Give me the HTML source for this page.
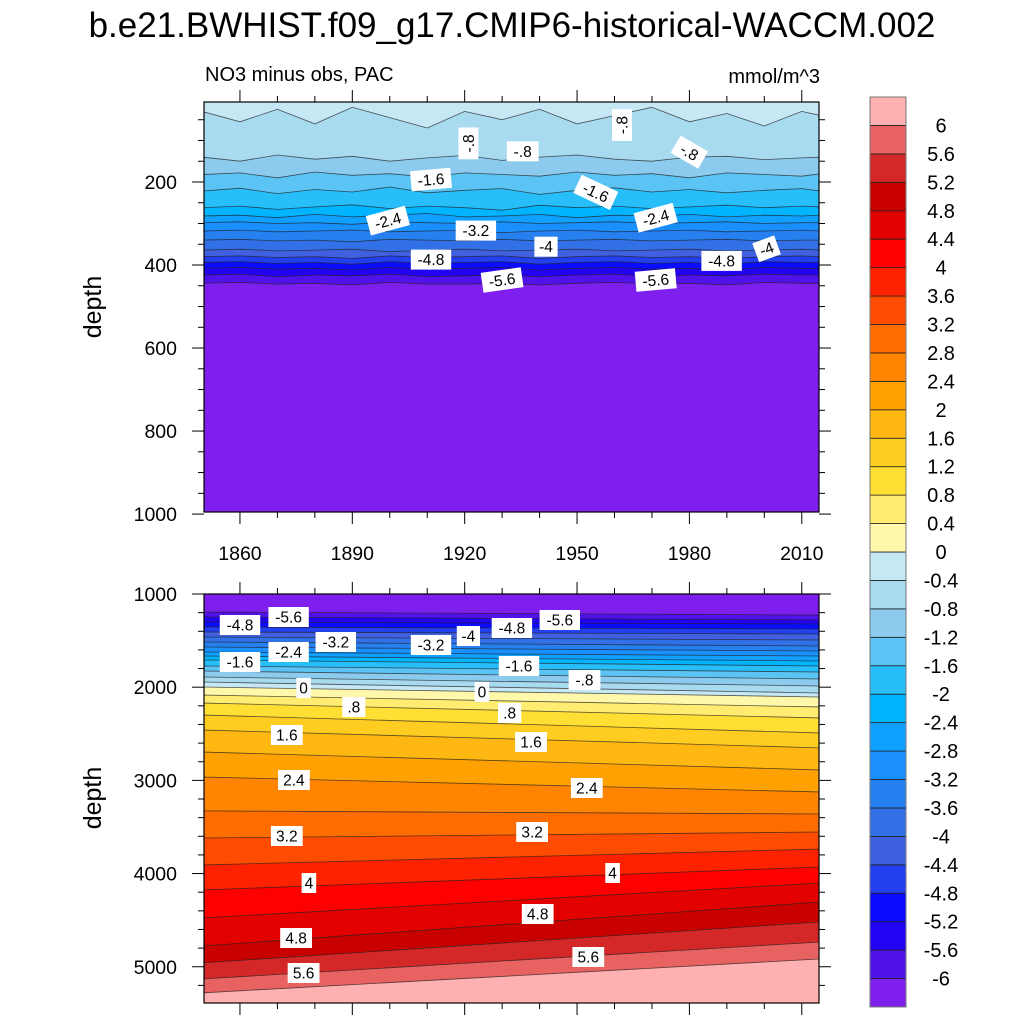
<!DOCTYPE html>
<html><head><meta charset="utf-8"><style>
html,body{margin:0;padding:0;background:#fff;}
svg{display:block;font-family:"Liberation Sans",Arial,sans-serif;}
</style></head><body>
<svg id="chart" width="1024" height="1024" viewBox="0 0 1024 1024" xmlns="http://www.w3.org/2000/svg">
<text x="512" y="37" font-size="35" text-anchor="middle" fill="#000">b.e21.BWHIST.f09_g17.CMIP6-historical-WACCM.002</text>
<text x="205" y="81" font-size="20" fill="#000">NO3 minus obs, PAC</text>
<text x="820" y="83" font-size="20" text-anchor="end" fill="#000">mmol/m^3</text>
<text transform="translate(101,307) rotate(-90)" font-size="25" text-anchor="middle" fill="#000">depth</text>
<text transform="translate(101,798) rotate(-90)" font-size="25" text-anchor="middle" fill="#000">depth</text>
</svg>
<script>
// ---- data ----
const levels = [-6,-5.6,-5.2,-4.8,-4.4,-4,-3.6,-3.2,-2.8,-2.4,-2,-1.6,-1.2,-0.8,-0.4,0,0.4,0.8,1.2,1.6,2,2.4,2.8,3.2,3.6,4,4.4,4.8,5.2,5.6,6];
const levelLabels = ["-6","-5.6","-5.2","-4.8","-4.4","-4","-3.6","-3.2","-2.8","-2.4","-2","-1.6","-1.2","-0.8","-0.4","0","0.4","0.8","1.2","1.6","2","2.4","2.8","3.2","3.6","4","4.4","4.8","5.2","5.6","6"];
const classColors = ["#7f1fee","#5012e8","#2203f2","#0a0cff","#2240ee","#4060e0","#3270e8","#2680f0","#1a90ff","#10a0ff","#00b4ff","#28befa","#5cc4f5","#8ccbee","#a8daf0","#c6e7f4","#fff7aa","#ffec70","#ffdf33","#ffcc22","#ffb812","#ffa100","#ff8400","#ff6c00","#ff4c00","#ff2200","#ff0000","#e20000","#c80000","#d42828","#e86262","#ffb0b0"];

// top panel (0-1000 m)
const topYears = [1850,1860,1870,1880,1890,1900,1910,1920,1930,1940,1950,1960,1970,1980,1990,2000,2010,2015];
const topLevels = [-0.4,-0.8,-1.2,-1.6,-2,-2.4,-2.8,-3.2,-3.6,-4,-4.4,-4.8,-5.2,-5.6,-6];
const topDepths = [
 [30,55,25,60,20,45,70,30,50,25,60,40,20,55,35,65,30,40],
 [140,150,135,145,138,150,142,136,148,140,135,145,150,140,138,146,142,140],
 [182,178,190,176,184,180,188,178,182,186,176,184,180,190,178,182,186,180],
 [222,215,228,218,224,212,226,220,216,230,220,214,224,218,226,220,216,222],
 [262,258,266,260,255,264,258,262,268,256,262,258,264,260,256,262,258,260],
 [282,280,286,278,284,280,276,284,282,278,286,280,282,278,284,280,282,280],
 [298,296,300,298,302,296,298,300,296,300,298,296,300,298,296,300,298,298],
 [318,316,320,318,316,320,318,316,322,318,316,320,318,316,320,318,316,318],
 [340,338,342,340,344,338,340,342,338,342,340,338,342,340,338,342,340,340],
 [364,362,366,364,362,368,364,362,366,364,362,366,364,362,366,364,362,364],
 [380,378,382,380,384,378,382,380,378,384,380,378,382,380,384,380,378,380],
 [394,392,396,394,398,392,396,394,392,398,394,392,396,394,398,392,394,394],
 [408,406,410,408,412,406,410,408,406,412,408,406,410,408,412,406,408,408],
 [424,422,428,424,426,422,428,426,424,428,424,422,428,424,426,422,424,424],
 [444,442,446,444,448,442,446,446,444,448,444,442,446,444,448,442,444,444]
];
const topLabelText = ["-.8","-.8","-.8","-.8","-1.6","-1.6","-2.4","-2.4","-3.2","-4","-4","-4.8","-4.8","-5.6","-5.6"];
const topLabelYear = [1921,1935.5,1962,1980,1911,1955,1899.5,1971,1923,1941.7,2000.6,1911,1988.6,1930,1971];
const topLabelDepth = [107,126,63,128,194,225,293,286,317,356,361,387,390,436,436];
const topLabelRot = [-90,0,-90,30,-5,25,-15,-15,0,0,-20,0,0,-8,-5];

// bottom panel (1000-5390 m)
const botYears = [1850.4,2014.6];
const botLevels = [-6,-5.6,-5.2,-4.8,-4.4,-4,-3.6,-3.2,-2.8,-2.4,-2,-1.6,-1.2,-0.8,-0.4,0,0.4,0.8,1.2,1.6,2,2.4,2.8,3.2,3.6,4,4.4,4.8,5.2,5.6,6];
const botDepthStart = [1193,1247,1300,1354,1408,1461,1515,1569,1622,1665,1708,1773,1826,1891,1944,1998,2084,2170,2298,2459,2695,2964,3328,3618,3908,4176,4477,4777,4959,5131,5281];
const botDepthEnd = [1225,1279,1322,1376,1429,1494,1558,1612,1665,1719,1773,1837,1912,1987,2062,2105,2213,2331,2492,2652,2889,3125,3361,3554,3736,3929,4101,4305,4519,4734,4916];
const botLabelText = ["-4.8","-5.6","-3.2","-2.4","-1.6","-3.2","-4","-4.8","-5.6","-1.6","-.8","0","0",".8",".8","1.6","1.6","2.4","2.4","3.2","3.2","4","4","4.8","4.8","5.6","5.6"];
const botLabelYear = [1860,1873,1885.6,1873,1860,1911,1921,1932.6,1945.4,1934.5,1952,1877,1924.6,1890.4,1932,1872.5,1937.7,1874.4,1952.6,1872.5,1938,1878.4,1959.5,1875,1939.5,1877,1953];
const botLabelDepth = [1333,1247,1515,1622,1730,1547,1451,1365,1279,1773,1923,2009,2052,2213,2277,2513,2588,2996,3082,3597,3554,4101,3994,4691,4434,5067,4895];

const xTickYears = [1860,1890,1920,1950,1980,2010];
const xTickLabels = ["1860","1890","1920","1950","1980","2010"];
const topYTicks = [200,400,600,800,1000];
const topYLabels = ["200","400","600","800","1000"];
const botYTicks = [1000,2000,3000,4000,5000];
const botYLabels = ["1000","2000","3000","4000","5000"];

// ---- layout ----
const NS = "http://www.w3.org/2000/svg";
const svg = document.getElementById('chart');
const PL = 204, PR = 819;
const X0 = 1850.4, X1 = 2014.6;
const xs = y => PL + (y - X0) / (X1 - X0) * (PR - PL);
const T = {top:102, bot:512, d0:7.3, d1:995};
const B = {top:594, bot:1003, d0:1000, d1:5389};
const yTop = d => T.top + (d - T.d0) / (T.d1 - T.d0) * (T.bot - T.top);
const yBot = d => B.top + (d - B.d0) / (B.d1 - B.d0) * (B.bot - B.top);
const clsOf = L => levels.indexOf(L);

function mk(tag, attrs, parent) {
  const e = document.createElementNS(NS, tag);
  for (const k in attrs) e.setAttribute(k, attrs[k]);
  (parent || svg).appendChild(e);
  return e;
}

const defs = mk('defs', {});
const c1 = mk('clipPath', {id:'clipTop'}, defs);
mk('rect', {x:PL, y:T.top, width:PR-PL, height:T.bot-T.top}, c1);
const c2 = mk('clipPath', {id:'clipBot'}, defs);
mk('rect', {x:PL, y:B.top, width:PR-PL, height:B.bot-B.top}, c2);

// ---- top panel ----
const gTop = mk('g', {'clip-path':'url(#clipTop)'});


const bgT = mk('rect', {x:PL, y:T.top, width:PR-PL, height:T.bot-T.top, fill:classColors[clsOf(-0.4)+1]}, gTop);


topLevels.forEach((L, i) => {
  const pts = topYears.map((yr, j) => [xs(yr), yTop(topDepths[i][j])]);
  pts[0][0] = PL - 2; pts[pts.length-1][0] = PR + 2;
  const line = pts.map(p => p[0].toFixed(1)+','+p[1].toFixed(1)).join(' ');
  const poly = mk('polygon', {points: line + ` ${PR+2},${T.bot+2} ${PL-2},${T.bot+2}`, fill: classColors[clsOf(L)]}, gTop);
  
  
  const pl = mk('polyline', {points: line, fill:'none', stroke:'#222', 'stroke-width':0.8, 'stroke-opacity':0.75}, gTop);
  
  
});

// ---- bottom panel ----
const gBot = mk('g', {'clip-path':'url(#clipBot)'});


const bgB = mk('rect', {x:PL, y:B.top, width:PR-PL, height:B.bot-B.top, fill:classColors[0]}, gBot);


botLevels.forEach((L, i) => {
  const xa = PL - 2, xb = PR + 2;
  const ya = yBot(botDepthStart[i]), yb = yBot(botDepthEnd[i]);
  const line = `${xa},${ya.toFixed(1)} ${xb},${yb.toFixed(1)}`;
  const poly = mk('polygon', {points: line + ` ${xb},${B.bot+2} ${xa},${B.bot+2}`, fill: classColors[clsOf(L)+1]}, gBot);
  
  
  const pl = mk('polyline', {points: line, fill:'none', stroke:'#222', 'stroke-width':0.8, 'stroke-opacity':0.75}, gBot);
  
  
});

// ---- contour labels ----
function label(txt, x, y, rot, name) {
  const g = mk('g', {transform:`translate(${x.toFixed(1)},${y.toFixed(1)}) rotate(${rot})`});
  
  
  const w = txt.length * 8.6 + 6;
  mk('rect', {x:-w/2, y:-10, width:w, height:20, fill:'#fff'}, g);
  const t = mk('text', {x:0, y:5.5, 'font-size':15.5, 'text-anchor':'middle', fill:'#000'}, g);
  t.textContent = txt;
}
topLabelText.forEach((s, i) => label(s, xs(topLabelYear[i]), yTop(topLabelDepth[i]), topLabelRot[i], 'top-contour-label'));
botLabelText.forEach((s, i) => label(s, xs(botLabelYear[i]), yBot(botLabelDepth[i]), 0, 'bottom-contour-label'));

// ---- frames & ticks ----
function frame(P, name) {
  const r = mk('rect', {x:PL, y:P.top, width:PR-PL, height:P.bot-P.top, fill:'none', stroke:'#000', 'stroke-width':1.2});
  
  
}
frame(T, 'top-plot-frame');
frame(B, 'bottom-plot-frame');
const tk = {stroke:'#000', 'stroke-width':1};
for (let yr = 1860; yr <= 2014; yr += 10) {
  const x = xs(yr), major = (yr - 1860) % 30 === 0, len = major ? 12 : 6;
  [[T.top, -1], [T.bot, 1], [B.top, -1], [B.bot, 1]].forEach(([y0, dir]) => {
    const l = mk('line', Object.assign({x1:x, x2:x, y1:y0, y2:y0 + dir*len}, tk));
    
    
  });
}
xTickYears.forEach((yr, i) => {
  const t = mk('text', {x:xs(yr), y:560, 'font-size':19.5, 'text-anchor':'middle', fill:'#000'});
  
  
  t.textContent = xTickLabels[i];
});
for (let d = 50; d <= 1000; d += 50) {
  const y = yTop(d), major = d % 200 === 0, len = major ? 12 : 6;
  [[PL, -1], [PR, 1]].forEach(([x0, dir]) => {
    const l = mk('line', Object.assign({x1:x0, x2:x0 + dir*len, y1:y, y2:y}, tk));
    
    
  });
}
for (let d = 1000; d <= 5389; d += 200) {
  const y = yBot(d), major = d % 1000 === 0, len = major ? 12 : 6;
  [[PL, -1], [PR, 1]].forEach(([x0, dir]) => {
    const l = mk('line', Object.assign({x1:x0, x2:x0 + dir*len, y1:y, y2:y}, tk));
    
    
  });
}
topYTicks.forEach((d, i) => {
  const t = mk('text', {x:177, y:yTop(d)+7, 'font-size':19.5, 'text-anchor':'end', fill:'#000'});
  
  
  t.textContent = topYLabels[i];
});
botYTicks.forEach((d, i) => {
  const t = mk('text', {x:177, y:yBot(d)+7, 'font-size':19.5, 'text-anchor':'end', fill:'#000'});
  
  
  t.textContent = botYLabels[i];
});

// ---- colorbar ----
const CB = {x:870, w:36, top:97, bot:1007};
const n = classColors.length, bh = (CB.bot - CB.top) / n;
const cbg = mk('g', {});


classColors.forEach((c, i) => {
  const k = n - 1 - i;
  const r = mk('rect', {x:CB.x, y:CB.top + k*bh, width:CB.w, height:bh, fill:c, stroke:'#222', 'stroke-width':0.8}, cbg);
  
  
});
mk('rect', {x:CB.x, y:CB.top, width:CB.w, height:CB.bot-CB.top, fill:'none', stroke:'#777', 'stroke-width':1}, cbg);
levelLabels.forEach((s, i) => {
  const k = n - 1 - i;
  const t = mk('text', {x:941, y:CB.top + k*bh + 7, 'font-size':20, 'text-anchor':'middle', fill:'#000'}, cbg);
  
  
  t.textContent = s;
});
</script>
</body></html>
